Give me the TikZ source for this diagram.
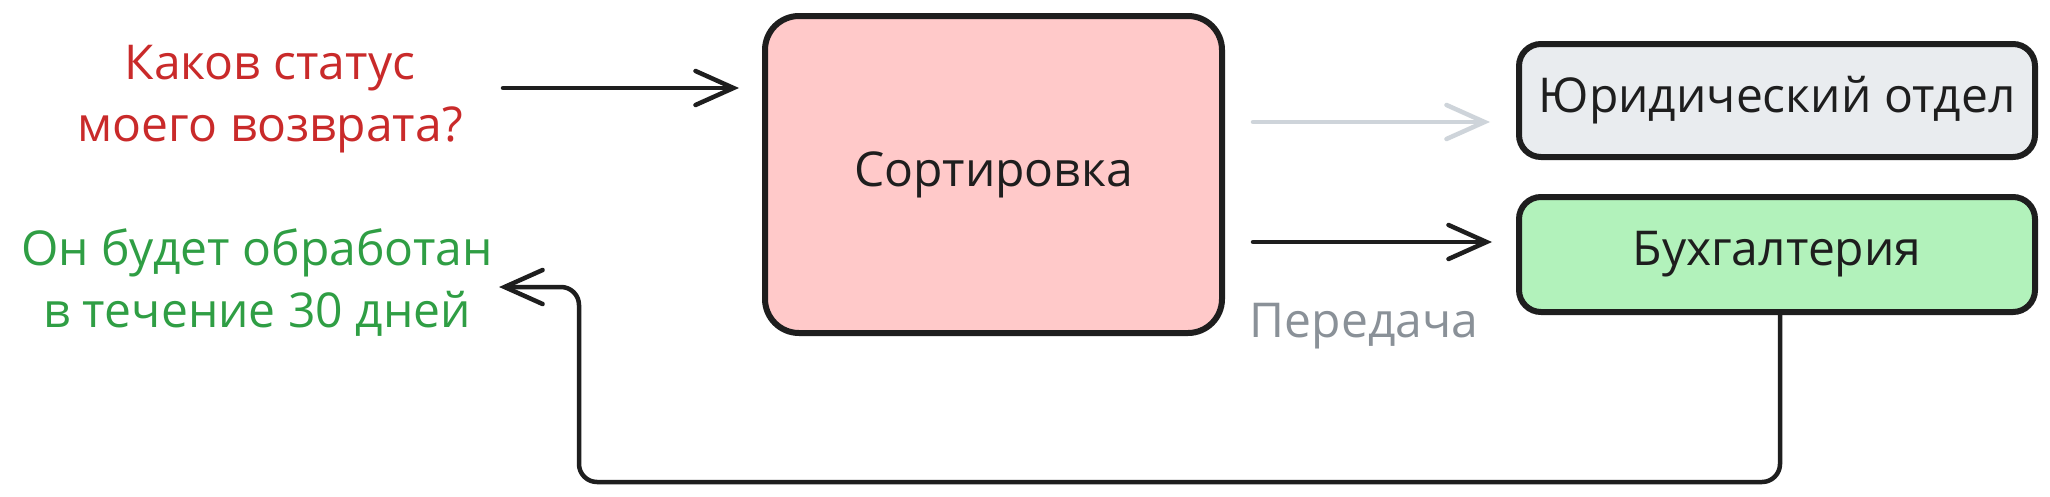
\documentclass[tikz,border=0pt]{standalone}
\usepackage{fontspec}
\setmainfont{Open Sans}
\usetikzlibrary{arrows.meta}
\definecolor{inkc}{HTML}{1E1E1E}
\definecolor{redtxt}{HTML}{C92A2A}
\definecolor{greentxt}{HTML}{2F9E44}
\definecolor{graytxt}{HTML}{8A9198}
\definecolor{grayline}{HTML}{CED4DA}
\definecolor{pinkfill}{HTML}{FFC9C9}
\definecolor{lightfill}{HTML}{E9ECEF}
\definecolor{greenfill}{HTML}{B2F2BB}
\tikzset{
  boxstyle/.style={draw=inkc, line width=6pt, rounded corners=22pt, inner sep=0pt, align=center,
     font=\fontsize{48}{58}\selectfont, text=inkc},
  txtstyle/.style={align=center, inner sep=6pt, font=\fontsize{48}{62}\selectfont},
  arr/.style={draw=inkc, line width=4.5pt, line cap=round, -{Straight Barb[length=38pt,width=34pt,line cap=round]}},
  grayarr/.style={arr, draw=grayline},
}
\begin{document}
\begin{tikzpicture}[x=1pt,y=-1pt]
\useasboundingbox[fill=white] (0,0) rectangle (2050,496);
% nodes
\node[boxstyle, fill=pinkfill, minimum width=457pt, minimum height=317pt, rounded corners=34pt] (sort) at (993.5,174.5) {Сортировка};
\node[boxstyle, fill=lightfill, minimum width=516pt, minimum height=113pt] (legal) at (1777,100.5) {Юридический отдел};
\node[boxstyle, fill=greenfill, minimum width=516pt, minimum height=115pt] (acc) at (1777,254.5) {Бухгалтерия};
\node[txtstyle, text=redtxt] (q) at (270,99) {Каков статус\\моего возврата?};
\node[txtstyle, text=greentxt] (ans) at (257,283) {Он будет обработан\\в течение 30 дней};
\node[txtstyle, text=graytxt, inner sep=0pt] (lbl) at (1364,326) {Передача};
% connector end points
\coordinate (qout) at (503,88);
\coordinate (legin) at (1253,122);
\coordinate (accin) at (1253,242);
\coordinate (botR) at (1780,482);
\coordinate (botL) at (579,482);
\coordinate (upL) at (579,287);
% connectors
\draw[arr, shorten >=23pt] (qout) -- (qout -| sort.west);
\draw[grayarr, shorten >=26pt] (legin) -- (legin -| legal.west);
\draw[arr, shorten >=24pt] (accin) -- (accin -| acc.west);
\draw[arr, rounded corners=18pt] (acc.south -| botR) -- (botR) -- (botL) -- (upL) -- (upL -| ans.east);
\end{tikzpicture}
\end{document}
